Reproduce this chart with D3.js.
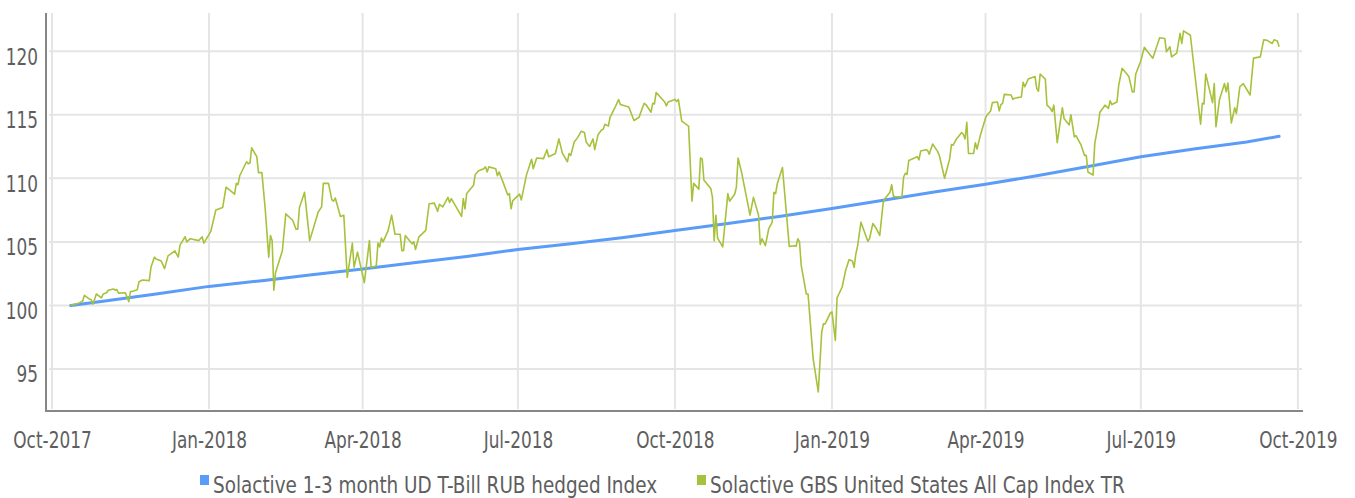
<!DOCTYPE html>
<html>
<head>
<meta charset="utf-8">
<script src="https://cdn.jsdelivr.net/npm/d3@7"></script>
<style>
  body { margin: 0; background: #fff; }
  svg text { font-family: "Liberation Sans Narrow", "DejaVu Sans Condensed", "DejaVu Sans", sans-serif; fill: #5e5e5e; }
</style>
</head>
<body>
<svg id="chart" width="1355" height="498"></svg>
<script>
// Series names (legend order)
const seriesNames = [
  "Solactive 1-3 month UD T-Bill RUB hedged Index",
  "Solactive GBS United States All Cap Index TR"
];
const seriesColors = ["#5a9cf8", "#a6c23c"];

// T-Bill RUB hedged index, month-start readings
const tbillDates = [
  "2017-10-12","2017-11-01","2017-12-01","2018-01-01","2018-02-01","2018-03-01",
  "2018-04-01","2018-05-01","2018-06-01","2018-07-01","2018-08-01","2018-09-01",
  "2018-10-01","2018-11-01","2018-12-01","2019-01-01","2019-02-01","2019-03-01",
  "2019-04-01","2019-05-01","2019-06-01","2019-07-01","2019-08-01","2019-09-01","2019-09-20"
];
const tbillValues = [
  100.0,100.35,100.9,101.5,101.95,102.4,
  102.86,103.35,103.85,104.4,104.85,105.35,
  105.9,106.45,107.0,107.63,108.3,108.9,
  109.53,110.2,110.95,111.7,112.3,112.85,113.3
];

// US All Cap equity index
const equityDates = [
  "2017-10-12","2017-10-17","2017-10-19","2017-10-20","2017-10-23","2017-10-24","2017-10-25","2017-10-27","2017-10-30","2017-10-31",
  "2017-11-02","2017-11-03","2017-11-06","2017-11-07","2017-11-08","2017-11-09","2017-11-13","2017-11-15","2017-11-16","2017-11-17",
  "2017-11-20","2017-11-21","2017-11-23","2017-11-27","2017-11-28","2017-11-30","2017-12-01","2017-12-04","2017-12-06","2017-12-08",
  "2017-12-12","2017-12-14","2017-12-15","2017-12-18","2017-12-19","2017-12-21","2017-12-26","2017-12-28","2017-12-29","2018-01-02",
  "2018-01-05","2018-01-09","2018-01-11","2018-01-16","2018-01-17","2018-01-18","2018-01-19","2018-01-23","2018-01-24","2018-01-25",
  "2018-01-26","2018-01-29","2018-01-30","2018-02-01","2018-02-03","2018-02-05","2018-02-06","2018-02-07","2018-02-08","2018-02-09",
  "2018-02-13","2018-02-15","2018-02-19","2018-02-21","2018-02-22","2018-02-23","2018-02-26","2018-03-01","2018-03-06","2018-03-08",
  "2018-03-09","2018-03-12","2018-03-14","2018-03-15","2018-03-16","2018-03-19","2018-03-21","2018-03-23","2018-03-26","2018-03-27",
  "2018-03-29","2018-04-02","2018-04-05","2018-04-06","2018-04-09","2018-04-10","2018-04-11","2018-04-12","2018-04-13","2018-04-16",
  "2018-04-18","2018-04-20","2018-04-23","2018-04-24","2018-04-25","2018-04-26","2018-04-30","2018-05-01","2018-05-02","2018-05-04",
  "2018-05-08","2018-05-10","2018-05-13","2018-05-15","2018-05-16","2018-05-18","2018-05-21","2018-05-22","2018-05-23","2018-05-29",
  "2018-05-30","2018-05-31","2018-06-01","2018-06-05","2018-06-06","2018-06-08","2018-06-11","2018-06-12","2018-06-13","2018-06-14",
  "2018-06-18","2018-06-19","2018-06-20","2018-06-22","2018-06-25","2018-06-26","2018-06-27","2018-06-28","2018-07-02","2018-07-03",
  "2018-07-06","2018-07-09","2018-07-10","2018-07-12","2018-07-16","2018-07-18","2018-07-19","2018-07-23","2018-07-25","2018-07-27",
  "2018-07-30","2018-07-31","2018-08-01","2018-08-03","2018-08-05","2018-08-07","2018-08-09","2018-08-10","2018-08-12","2018-08-14",
  "2018-08-15","2018-08-17","2018-08-19","2018-08-20","2018-08-21","2018-08-23","2018-08-24","2018-08-27","2018-08-29","2018-08-30",
  "2018-09-04","2018-09-07","2018-09-10","2018-09-11","2018-09-13","2018-09-14","2018-09-17","2018-09-18","2018-09-19","2018-09-20",
  "2018-09-22","2018-09-25","2018-09-26","2018-09-27","2018-10-01","2018-10-02","2018-10-03","2018-10-05","2018-10-09","2018-10-11",
  "2018-10-12","2018-10-15","2018-10-16","2018-10-17","2018-10-18","2018-10-22","2018-10-23","2018-10-24","2018-10-25","2018-10-26",
  "2018-10-29","2018-11-01","2018-11-02","2018-11-05","2018-11-06","2018-11-07","2018-11-09","2018-11-14","2018-11-16","2018-11-19",
  "2018-11-20","2018-11-21","2018-11-23","2018-11-25","2018-11-27","2018-11-28","2018-11-29","2018-11-30","2018-12-03","2018-12-07",
  "2018-12-10","2018-12-11","2018-12-12","2018-12-13","2018-12-14","2018-12-17","2018-12-18","2018-12-21","2018-12-24","2018-12-26",
  "2018-12-27","2018-12-28","2018-12-31","2019-01-01","2019-01-03","2019-01-04","2019-01-07","2019-01-09","2019-01-11","2019-01-13",
  "2019-01-14","2019-01-15","2019-01-16","2019-01-18","2019-01-22","2019-01-23","2019-01-25","2019-01-27","2019-01-29","2019-01-31",
  "2019-02-01","2019-02-04","2019-02-05","2019-02-06","2019-02-07","2019-02-11","2019-02-12","2019-02-13","2019-02-14","2019-02-15",
  "2019-02-20","2019-02-21","2019-02-22","2019-02-25","2019-02-26","2019-02-27","2019-03-01","2019-03-04","2019-03-05","2019-03-08",
  "2019-03-11","2019-03-12","2019-03-13","2019-03-15","2019-03-18","2019-03-19","2019-03-20","2019-03-21","2019-03-22","2019-03-25",
  "2019-03-26","2019-03-27","2019-03-29","2019-04-01","2019-04-02","2019-04-04","2019-04-05","2019-04-08","2019-04-09","2019-04-10",
  "2019-04-11","2019-04-12","2019-04-16","2019-04-17","2019-04-18","2019-04-22","2019-04-23","2019-04-24","2019-04-26","2019-04-30",
  "2019-05-01","2019-05-02","2019-05-03","2019-05-06","2019-05-07","2019-05-09","2019-05-10","2019-05-11","2019-05-13","2019-05-16",
  "2019-05-17","2019-05-20","2019-05-21","2019-05-23","2019-05-24","2019-05-27","2019-05-29","2019-05-30","2019-05-31","2019-06-03",
  "2019-06-04","2019-06-06","2019-06-07","2019-06-10","2019-06-12","2019-06-13","2019-06-14","2019-06-17","2019-06-18","2019-06-20",
  "2019-06-24","2019-06-26","2019-06-27","2019-06-28","2019-07-01","2019-07-03","2019-07-05","2019-07-08","2019-07-10","2019-07-12",
  "2019-07-15","2019-07-16","2019-07-18","2019-07-19","2019-07-22","2019-07-24","2019-07-25","2019-07-26","2019-07-30","2019-08-05",
  "2019-08-06","2019-08-07","2019-08-08","2019-08-12","2019-08-13","2019-08-14","2019-08-16","2019-08-19","2019-08-20","2019-08-21",
  "2019-08-23","2019-08-25","2019-08-26","2019-08-28","2019-08-30","2019-09-03","2019-09-05","2019-09-09","2019-09-11","2019-09-13",
  "2019-09-16","2019-09-17","2019-09-19","2019-09-20"
];
const equityValues = [
  100.0,100.2,100.35,100.8,100.5,100.45,100.1,100.9,100.6,100.9,
  101.0,101.2,101.3,101.2,101.25,100.97,101.0,100.3,101.1,101.1,
  101.24,101.87,102.0,101.95,103.0,103.8,103.65,103.5,102.9,103.9,
  104.3,103.8,104.75,105.4,105.0,105.25,105.1,105.4,104.9,105.8,
  107.5,107.7,109.3,108.75,109.6,109.5,110.2,111.3,111.15,111.2,
  112.4,111.7,110.45,110.45,107.5,103.8,105.5,105.1,101.2,102.6,
  104.3,107.2,106.7,106.0,106.0,107.7,108.9,105.1,107.35,107.75,
  109.6,109.6,108.3,108.2,108.45,107.0,107.1,102.2,104.9,103.0,
  104.2,101.8,105.1,103.0,103.1,104.9,104.6,105.3,105.0,105.9,
  107.1,105.6,105.6,104.3,104.3,105.5,104.85,105.0,104.4,105.4,
  105.9,108.0,108.05,107.4,107.95,107.75,108.5,108.1,108.4,107.0,
  108.4,107.6,108.8,109.45,110.3,110.6,110.75,110.9,110.5,110.9,
  110.75,110.2,110.5,109.8,108.7,108.8,107.6,108.25,108.75,108.3,
  110.25,111.5,110.75,111.6,111.55,112.25,111.7,111.95,113.1,112.0,
  111.3,111.95,111.8,112.85,113.2,113.7,113.6,112.85,112.5,113.1,
  112.25,113.45,113.8,113.85,114.25,114.1,114.8,115.6,116.2,115.8,
  115.6,114.55,114.8,115.2,115.9,115.8,115.2,115.9,115.85,116.75,
  116.45,116.0,115.7,116.0,116.2,116.05,116.2,114.5,114.1,108.2,
  109.6,109.15,111.6,111.5,109.85,109.2,108.5,105.1,107.1,105.3,
  104.6,108.8,108.2,108.75,109.3,111.6,110.5,107.1,108.5,107.1,
  104.8,105.25,104.7,106.05,106.55,108.9,108.8,109.6,110.85,104.65,
  104.7,104.65,105.25,105.0,103.15,100.9,100.9,95.8,93.2,97.9,
  98.55,98.55,99.4,99.5,97.25,100.6,101.45,102.75,103.6,103.5,
  103.0,104.05,104.65,106.55,105.05,105.25,106.45,106.05,105.5,108.05,
  108.4,108.9,109.5,108.6,108.55,108.55,110.1,110.4,110.3,111.4,
  111.7,111.45,112.15,112.25,112.2,111.9,112.7,112.1,111.75,110.0,
  111.55,112.65,112.6,113.1,113.6,113.45,113.1,114.4,111.95,111.95,
  112.8,112.3,113.4,114.75,115.0,115.3,115.95,116.0,115.3,115.8,
  115.9,116.6,116.55,116.2,116.3,116.4,117.55,117.2,117.8,118.0,
  117.05,116.85,118.2,117.8,115.75,115.5,115.25,115.75,112.8,115.55,
  114.7,114.2,115.0,113.25,113.35,112.6,111.8,111.8,110.5,110.25,
  112.75,114.2,115.2,115.75,115.5,116.1,115.8,116.0,117.3,118.65,
  118.0,116.8,116.8,118.2,119.25,120.3,119.95,119.45,120.25,121.05,
  121.0,119.95,120.35,119.55,119.85,121.4,120.6,121.6,121.25,114.25,
  115.9,115.85,118.2,115.95,117.45,114.05,116.15,117.45,116.8,117.5,
  114.35,115.55,115.1,117.2,117.45,116.55,119.45,119.55,120.9,120.85,
  120.6,120.9,120.8,120.35
];

// Axis ticks
const yTicks = [95, 100, 105, 110, 115, 120];
const xTickDates = [
  "2017-10-01","2018-01-01","2018-04-01","2018-07-01","2018-10-01",
  "2019-01-01","2019-04-01","2019-07-01","2019-10-01"
];
const xDomain = ["2017-09-27T12:00:00Z", "2019-10-04T00:00:00Z"];
const yDomain = [91.7, 123.0];

const parse = d3.utcParse("%Y-%m-%d");
const fmt = d3.utcFormat("%b-%Y");

const svg = d3.select("#chart");
const plot = { left: 46, right: 1303, top: 13, bottom: 411 };
const fontSize = 23.5;
const axisSqueeze = 0.8;     // narrow lettering for tick labels
const legendSqueeze = 0.87;  // narrow lettering for legend entries

const x = d3.scaleUtc()
  .domain(xDomain.map(d => new Date(d)))
  .range([plot.left, plot.right]);
const y = d3.scaleLinear()
  .domain(yDomain)
  .range([plot.bottom, plot.top]);

const tickDates = xTickDates.map(parse);

// Gridlines
const grid = svg.append("g").attr("stroke", "#e5e5e5").attr("stroke-width", 2);
grid.selectAll("line.h").data(yTicks).join("line")
  .attr("class", "h")
  .attr("x1", plot.left + 3).attr("x2", plot.right - 1)
  .attr("y1", d => y(d)).attr("y2", d => y(d));
grid.selectAll("line.v").data(tickDates).join("line")
  .attr("class", "v")
  .attr("x1", d => x(d)).attr("x2", d => x(d))
  .attr("y1", plot.top).attr("y2", plot.bottom - 2);

// Axis lines
const axisColor = "#878787";
svg.append("line")
  .attr("x1", plot.left).attr("x2", plot.left)
  .attr("y1", plot.top).attr("y2", plot.bottom + 1)
  .attr("stroke", axisColor).attr("stroke-width", 2);
svg.append("line")
  .attr("x1", plot.left).attr("x2", plot.right)
  .attr("y1", plot.bottom).attr("y2", plot.bottom)
  .attr("stroke", axisColor).attr("stroke-width", 2);

// Tick labels through d3 axes
const yAxis = d3.axisLeft(y).tickValues(yTicks).tickSize(0).tickPadding(8);
const gy = svg.append("g").attr("transform", `translate(${plot.left},0)`).call(yAxis);
gy.attr("font-family", null).attr("font-size", null);
gy.select(".domain").remove();
gy.selectAll("text")
  .attr("font-size", fontSize)
  .attr("x", -8 / axisSqueeze)
  .attr("dy", "0.55em")
  .attr("transform", `scale(${axisSqueeze},1)`)
  .attr("fill", "#5e5e5e");

const xAxis = d3.axisBottom(x).tickValues(tickDates).tickFormat(fmt).tickSize(0).tickPadding(20);
const gx = svg.append("g").attr("transform", `translate(0,${plot.bottom})`).call(xAxis);
gx.attr("font-family", null).attr("font-size", null);
gx.select(".domain").remove();
gx.selectAll("text")
  .attr("font-size", fontSize)
  .attr("transform", `scale(${axisSqueeze},1)`)
  .attr("fill", "#5e5e5e");

// Lines
const line = d3.line().x(d => x(d.date)).y(d => y(d.value));
const tbill = tbillDates.map((d, i) => ({ date: parse(d), value: tbillValues[i] }));
const equity = equityDates.map((d, i) => ({ date: parse(d), value: equityValues[i] }));

svg.append("path").datum(tbill)
  .attr("d", line).attr("fill", "none")
  .attr("stroke", seriesColors[0]).attr("stroke-width", 3)
  .attr("stroke-linejoin", "round").attr("stroke-linecap", "round");
svg.append("path").datum(equity)
  .attr("d", line).attr("fill", "none")
  .attr("stroke", seriesColors[1]).attr("stroke-width", 1.6)
  .attr("stroke-linejoin", "round");

// Legend
const legendX = [200, 697];
const legend = svg.append("g");
seriesNames.forEach((name, i) => {
  legend.append("rect")
    .attr("x", legendX[i]).attr("y", 475)
    .attr("width", 9).attr("height", 10)
    .attr("fill", seriesColors[i]);
  legend.append("text")
    .attr("transform", `translate(${legendX[i] + 13},493) scale(${legendSqueeze},1)`)
    .attr("font-size", fontSize)
    .text(name);
});
</script>
</body>
</html>
